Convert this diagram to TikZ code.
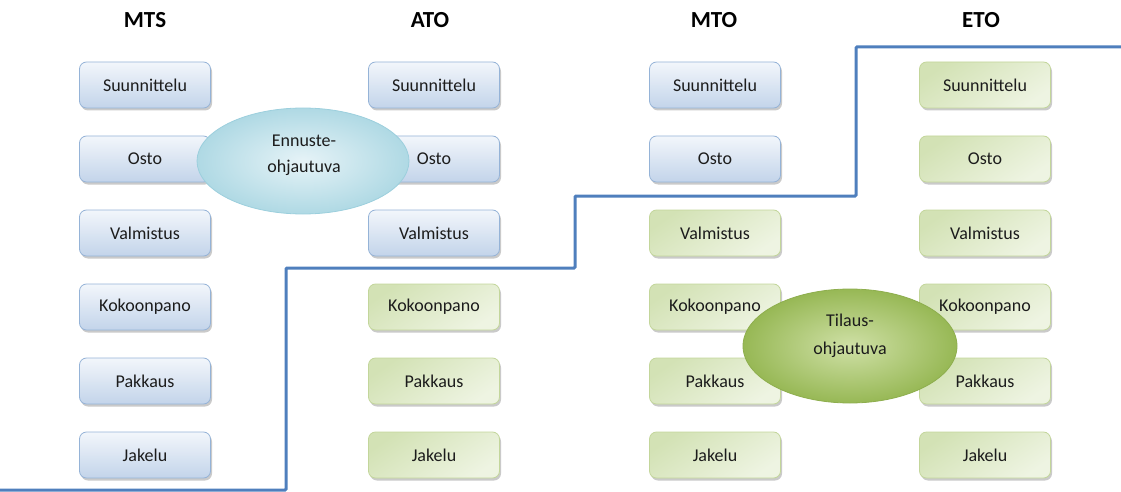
\documentclass[tikz,border=0pt]{standalone}
\usepackage{fontspec}
\setmainfont{Carlito}
\usetikzlibrary{shadows,shapes.geometric}
\definecolor{bluebd}{HTML}{95B3D7}
\definecolor{bluetop}{HTML}{F2F6FB}
\definecolor{bluebot}{HTML}{C3D4EA}
\definecolor{greenbd}{HTML}{C3D69B}
\definecolor{greentop}{HTML}{D3E2B5}
\definecolor{greenbot}{HTML}{EEF4E2}
\definecolor{txt}{HTML}{1C1C1C}
\definecolor{linec}{HTML}{4F7FBD}
\definecolor{cyanin}{HTML}{E6F3F7}
\definecolor{cyanout}{HTML}{AFD9E4}
\definecolor{cyanbd}{HTML}{9CCFDD}
\definecolor{grin}{HTML}{CFE0A6}
\definecolor{grout}{HTML}{97B855}
\definecolor{grbd}{HTML}{8EAE4E}
\tikzset{
  box/.style={rounded corners=7pt, minimum width=131pt, minimum height=46pt,
    inner sep=0pt, font=\fontsize{18}{20}\selectfont, text=txt,
    drop shadow={shadow xshift=1.5pt, shadow yshift=-2.5pt, opacity=0.35, fill=black!60}},
  bluebox/.style={box, draw=bluebd, line width=0.8pt, top color=bluetop, bottom color=bluebot},
  greenbox/.style={box, draw=greenbd, line width=0.8pt, top color=greentop, bottom color=greenbot, shading angle=35},
  head/.style={font=\fontsize{23}{26}\selectfont\bfseries, text=black},
  ell/.style={ellipse, inner sep=0pt, font=\fontsize{18}{25}\selectfont, text=txt, align=center},
  divider/.style={draw=linec, line width=3pt, rounded corners=1pt}
}
\begin{document}
\begin{tikzpicture}[x=1pt,y=-1pt]
\useasboundingbox (0,0) rectangle (1121,492);
% headers
\node[head] (hMTS) at (145,20) {MTS};
\node[head] (hATO) at (430,20) {ATO};
\node[head] (hMTO) at (714,20) {MTO};
\node[head] (hETO) at (981,20) {ETO};
% MTS column
\node[bluebox] (s1) at (145,85) {Suunnittelu};
\node[bluebox] (s2) at (145,159) {Osto};
\node[bluebox] (s3) at (145,233) {Valmistus};
\node[bluebox] (s4) at (145,307) {Kokoonpano};
\node[bluebox] (s5) at (145,381) {Pakkaus};
\node[bluebox] (s6) at (145,455) {Jakelu};
% ATO column
\node[bluebox] (a1) at (434,85) {Suunnittelu};
\node[bluebox] (a2) at (434,159) {Osto};
\node[bluebox] (a3) at (434,233) {Valmistus};
\node[greenbox] (a4) at (434,307) {Kokoonpano};
\node[greenbox] (a5) at (434,381) {Pakkaus};
\node[greenbox] (a6) at (434,455) {Jakelu};
% MTO column
\node[bluebox] (m1) at (715,85) {Suunnittelu};
\node[bluebox] (m2) at (715,159) {Osto};
\node[greenbox] (m3) at (715,233) {Valmistus};
\node[greenbox] (m4) at (715,307) {Kokoonpano};
\node[greenbox] (m5) at (715,381) {Pakkaus};
\node[greenbox] (m6) at (715,455) {Jakelu};
% ETO column
\node[greenbox] (e1) at (985,85) {Suunnittelu};
\node[greenbox] (e2) at (985,159) {Osto};
\node[greenbox] (e3) at (985,233) {Valmistus};
\node[greenbox] (e4) at (985,307) {Kokoonpano};
\node[greenbox] (e5) at (985,381) {Pakkaus};
\node[greenbox] (e6) at (985,455) {Jakelu};
% ellipses
\node[ell, minimum width=212pt, minimum height=106pt, draw=cyanbd, line width=0.8pt,
  inner color=cyanin, outer color=cyanout] (ennuste) at (303,161) {};
\node[font=\fontsize{18}{26}\selectfont, text=txt, align=center] (ennT) at (304,155) {Ennuste-\\ohjautuva};
\node[ell, minimum width=214pt, minimum height=114pt, draw=grbd, line width=0.8pt,
  inner color=grin, outer color=grout] (tilaus) at (850,346) {};
\node[font=\fontsize{18}{28}\selectfont, text=txt, align=center] (tilT) at (850,336) {Tilaus-\\ohjautuva};
% divider line
\coordinate (p0) at (0,490);
\coordinate (p1) at (286,490);
\coordinate (p2) at (286,268);
\coordinate (p3) at (575,268);
\coordinate (p4) at (575,196);
\coordinate (p5) at (856,196);
\coordinate (p6) at (856,47);
\coordinate (p7) at (1121,47);
\draw[divider] (p0) -- (p1) -- (p2) -- (p3) -- (p4) -- (p5) -- (p6) -- (p7);
\end{tikzpicture}
\end{document}
